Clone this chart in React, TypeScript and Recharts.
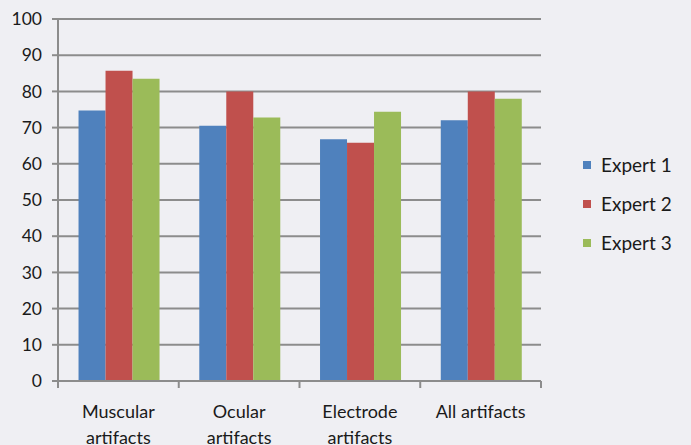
import React from "react";
import {
  BarChart,
  Bar,
  XAxis,
  YAxis,
  CartesianGrid,
} from "recharts";

const categories = ["Muscular artifacts", "Ocular artifacts", "Electrode artifacts", "All artifacts"];
const expert1 = [74.7, 70.5, 66.8, 72.0];
const expert2 = [85.7, 80.0, 65.8, 80.0];
const expert3 = [83.5, 72.8, 74.4, 78.0];
const yTicks = [0, 10, 20, 30, 40, 50, 60, 70, 80, 90, 100];

const series = [
  { key: "e1", name: "Expert 1", color: "#4F81BD" },
  { key: "e2", name: "Expert 2", color: "#C0504D" },
  { key: "e3", name: "Expert 3", color: "#9BBB59" },
];

const data = categories.map((c, i) => ({
  cat: c,
  e1: expert1[i],
  e2: expert2[i],
  e3: expert3[i],
}));

const FONT = "Lato, 'Open Sans', sans-serif";
const AXIS = "#8c8c8c";
const W = 691;
const H = 445;
const M = { top: 19, right: 150, bottom: 0, left: 0 };
const Y_W = 58;
const BAND = (W - M.left - M.right - Y_W) / categories.length;

// category label (two lines) plus tick marks at the band edges
const CatTick = (props: any) => {
  const { x, y, payload, index } = props;
  const label: string = payload.value;
  const lines = label === "All artifacts" ? [label] : label.split(" ");
  const y0 = y - 8;
  const edges = [x - BAND / 2];
  if (index === categories.length - 1) edges.push(x + BAND / 2);
  return (
    <g>
      {edges.map((ex, i) => (
        <line key={i} x1={ex} x2={ex} y1={y0} y2={y0 + 7} stroke={AXIS} strokeWidth={2} />
      ))}
      <text x={x} y={y} textAnchor="middle" fill="#1a1a1a" fontSize={18} fontFamily={FONT}>
        {lines.map((l, i) => (
          <tspan key={i} x={x} dy={i === 0 ? 29 : 26}>{l}</tspan>
        ))}
      </text>
    </g>
  );
};

export default function App() {
  return (
    <div style={{ position: "absolute", left: 0, top: 0, width: W, height: H, background: "#EFEFF3" }}>
      <BarChart
        width={W}
        height={H}
        data={data}
        margin={M}
        barCategoryGap="17%"
        barGap={0}
      >
        <CartesianGrid vertical={false} stroke={AXIS} strokeWidth={2} />
        <XAxis
          dataKey="cat"
          height={64}
          axisLine={{ stroke: AXIS, strokeWidth: 2 }}
          tickLine={false}
          tickSize={0}
          tickMargin={8}
          tick={<CatTick />}
          interval={0}
        />
        <YAxis
          width={Y_W}
          domain={[0, 100]}
          ticks={yTicks}
          interval={0}
          axisLine={{ stroke: AXIS, strokeWidth: 2 }}
          tickLine={{ stroke: AXIS, strokeWidth: 2 }}
          tickSize={6}
          tickMargin={10}
          tick={{ fill: "#1a1a1a", fontSize: 17.5, fontFamily: FONT }}
        />
        {series.map((s) => (
          <Bar key={s.key} dataKey={s.key} name={s.name} fill={s.color} isAnimationActive={false} />
        ))}
      </BarChart>
      <div style={{ position: "absolute", left: 583, top: 145, fontFamily: FONT, fontSize: 19, color: "#1a1a1a" }}>
        {series.map((s) => (
          <div key={s.key} style={{ display: "flex", alignItems: "center", height: 39 }}>
            <span style={{ width: 8, height: 8, background: s.color, marginRight: 10, display: "inline-block" }} />
            {s.name}
          </div>
        ))}
      </div>
    </div>
  );
}
